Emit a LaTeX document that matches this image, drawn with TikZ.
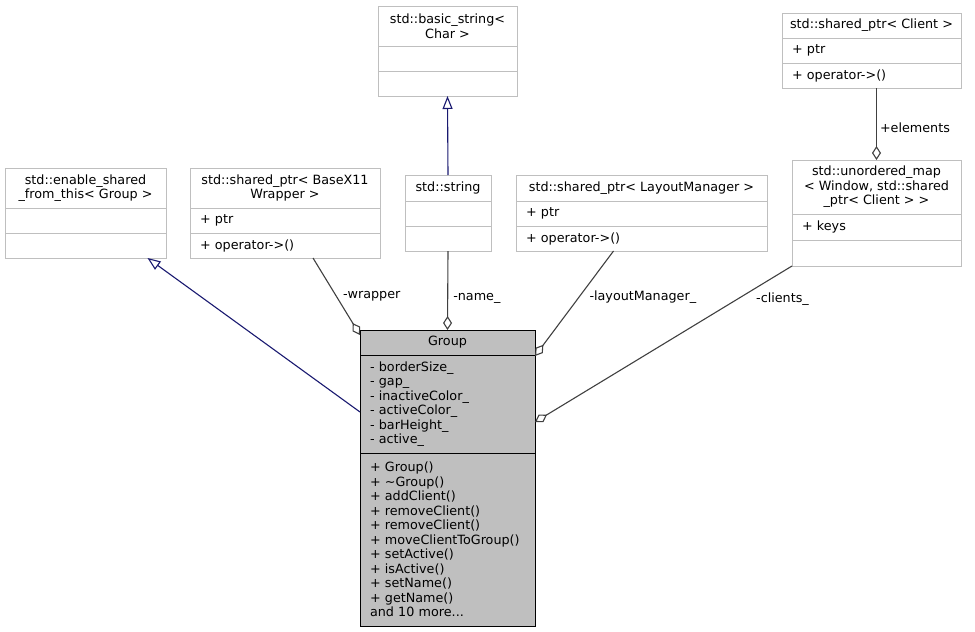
\documentclass[tikz,border=0pt]{standalone}
\usepackage{fontspec}
\setmainfont{DejaVu Sans}
\usetikzlibrary{positioning, arrows.meta}

\definecolor{boxgray}{HTML}{BFBFBF}
\definecolor{grpfill}{HTML}{BFBFBF}
\definecolor{edgegray}{HTML}{404040}
\definecolor{inhblue}{HTML}{191970}
\newcommand{\doxfont}{\fontsize{12.75}{14.5}\selectfont}

\begin{document}
\begin{tikzpicture}[x=1pt, y=-1pt,
    head/.style={rectangle, draw=boxgray, fill=white, line width=1pt,
                 outer sep=0pt, inner sep=3pt, align=center, font=\doxfont},
    field/.style={rectangle, draw=boxgray, fill=white, line width=1pt,
                  outer sep=0pt, inner xsep=10pt, inner ysep=2pt,
                  align=left, font=\doxfont},
    lbl/.style={font=\doxfont, right, inner sep=3pt},
    uses/.style={draw=edgegray, line width=1.1pt,
                 -{Diamond[open, length=14pt, width=9pt]}},
    inherits/.style={draw=inhblue, line width=1.1pt,
                     -{Triangle[open, length=13pt, width=10pt]}}
]
  \useasboundingbox (0,0) rectangle (975,632);

  % enable_shared_from_this
  \node[head, anchor=north, minimum width=161pt, minimum height=40pt] (esft) at (85.5,168)
       {std::enable\_shared\\\_from\_this< Group >};
  \node[field, text width=141pt, minimum height=25pt, below=0pt of esft] (esft1) {};
  \node[field, text width=141pt, minimum height=25pt, below=0pt of esft1] (esft2) {};

  % shared_ptr< BaseX11Wrapper >
  \node[head, anchor=north, minimum width=190pt, minimum height=40pt] (wrap) at (285,168)
       {std::shared\_ptr< BaseX11\\Wrapper >};
  \node[field, text width=170pt, minimum height=25pt, below=0pt of wrap] (wrap1) {+ ptr};
  \node[field, text width=170pt, minimum height=25pt, below=0pt of wrap1] (wrap2) {+ operator->()};

  % basic_string
  \node[head, anchor=north, minimum width=139pt, minimum height=40pt] (bstr) at (447.5,6)
       {std::basic\_string<\\Char >};
  \node[field, text width=119pt, minimum height=25pt, below=0pt of bstr] (bstr1) {};
  \node[field, text width=119pt, minimum height=25pt, below=0pt of bstr1] (bstr2) {};

  % string
  \node[head, anchor=north, minimum width=86pt, minimum height=26pt] (str) at (448,175)
       {std::string};
  \node[field, text width=66pt, minimum height=25pt, below=0pt of str] (str1) {};
  \node[field, text width=66pt, minimum height=25pt, below=0pt of str1] (str2) {};

  % shared_ptr< LayoutManager >
  \node[head, anchor=north, minimum width=251pt, minimum height=26pt] (lm) at (641.5,175)
       {std::shared\_ptr< LayoutManager >};
  \node[field, text width=231pt, minimum height=25pt, below=0pt of lm] (lm1) {+ ptr};
  \node[field, text width=231pt, minimum height=25pt, below=0pt of lm1] (lm2) {+ operator->()};

  % shared_ptr< Client >
  \node[head, anchor=north, minimum width=179pt, minimum height=25pt] (cli) at (871.5,13)
       {std::shared\_ptr< Client >};
  \node[field, text width=159pt, minimum height=25pt, below=0pt of cli] (cli1) {+ ptr};
  \node[field, text width=159pt, minimum height=25pt, below=0pt of cli1] (cli2) {+ operator->()};

  % unordered_map
  \node[head, anchor=north, minimum width=169pt, minimum height=54pt] (map) at (876.5,160)
       {std::unordered\_map\\< Window, std::shared\\\_ptr< Client > >};
  \node[field, text width=149pt, minimum height=26pt, below=0pt of map] (map1) {+ keys};
  \node[field, text width=149pt, minimum height=26pt, below=0pt of map1] (map2) {};

  % Group
  \node[head, draw=black, fill=grpfill, anchor=north, minimum width=175pt,
        minimum height=25pt] (grp) at (447.5,330) {Group};
  \node[field, draw=black, fill=grpfill, text width=155pt, minimum height=98pt,
        below=0pt of grp] (grp1)
       {- borderSize\_\\- gap\_\\- inactiveColor\_\\- activeColor\_\\- barHeight\_\\- active\_};
  \node[field, draw=black, fill=grpfill, text width=155pt, minimum height=173pt,
        below=0pt of grp1] (grp2)
       {+ Group()\\+ \textasciitilde Group()\\+ addClient()\\+ removeClient()\\+ removeClient()\\
        + moveClientToGroup()\\+ setActive()\\+ isActive()\\+ setName()\\+ getName()\\and 10 more...};

  % Arrows
  \draw[inherits] ([yshift=-82pt]grp.north west) -- ([xshift=62pt]esft2.south);
  \draw[inherits] (str.north) -- (bstr2.south);
  \draw[uses] ([xshift=28pt]wrap2.south) -- node[lbl, pos=0.5, xshift=3pt]{-wrapper} ([yshift=-5pt]grp.north west);
  \draw[uses] (str2.south) -- node[lbl, pos=0.6, xshift=2pt]{-name\_} (grp.north);
  \draw[uses] ([xshift=-28pt]lm2.south) -- node[lbl, pos=0.44, xshift=7pt]{-layoutManager\_} ([yshift=-26pt]grp.north east);
  \draw[uses] (map2.south west) -- node[lbl, pos=0.2, xshift=12pt, yshift=-2pt]{-clients\_} ([yshift=-92pt]grp.north east);
  \draw[uses] (cli2.south -| map.north) -- node[lbl, pos=0.55]{+elements} (map.north);
\end{tikzpicture}
\end{document}
